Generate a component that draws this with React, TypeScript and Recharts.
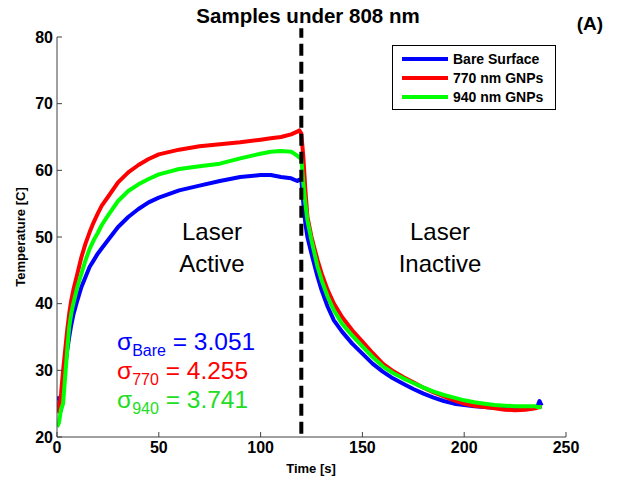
import { LineChart, Line, XAxis, YAxis, ReferenceLine, Legend } from "recharts";

// time axis in seconds, shared by the three series
const time = [
  0, 1, 2, 3, 4, 5, 6, 7, 8, 10, 12, 14, 16, 18, 20, 22, 25, 30, 35, 40, 45, 50, 60, 70, 80, 90,
  100, 105, 110, 115, 118, 119, 120, 121, 122, 123, 125, 128, 130, 133, 136, 140, 145, 150, 155,
  160, 165, 170, 175, 180, 185, 190, 195, 200, 205, 210, 215, 220, 225, 230, 235, 236, 237, 238,
];

const bareSurface = [
  25.8, 25.8, 24.0, 27.0, 30.5, 33.0, 35.0, 36.8, 38.3, 40.5, 42.5, 44.0, 45.5, 46.5, 47.5, 48.3,
  49.5, 51.5, 53.0, 54.2, 55.2, 55.9, 57.0, 57.7, 58.4, 59.0, 59.3, 59.3, 59.0, 58.8, 58.4, 58.6,
  58.6, 55.0, 52.0, 50.0, 47.5, 44.0, 42.0, 39.5, 37.5, 35.8, 34.0, 32.5, 31.0, 29.8, 28.8, 28.0,
  27.2, 26.5, 25.9, 25.4, 25.0, 24.8, 24.6, 24.5, 24.4, 24.4, 24.4, 24.4, 24.5, 24.6, 25.4, 24.7,
];

const gnp770 = [
  25.3, 23.8, 26.5, 30.0, 33.0, 36.0, 38.5, 40.5, 42.0, 44.5, 47.0, 49.0, 50.7, 52.2, 53.5, 54.7,
  56.0, 58.2, 59.7, 60.8, 61.7, 62.4, 63.1, 63.6, 63.9, 64.2, 64.6, 64.8, 65.0, 65.4, 65.8, 66.0,
  65.5, 62.0, 57.0, 53.0, 50.0, 46.5, 44.5, 42.0, 40.0, 38.0, 36.0, 34.3, 32.6, 31.0, 29.9, 29.0,
  28.2, 27.4, 26.7, 26.1, 25.5, 25.0, 24.7, 24.5, 24.3, 24.1, 24.0, 24.1, 24.3, 24.4, 24.5, 24.6,
];

const gnp940 = [
  21.5, 22.2, 24.2, 25.0, 29.0, 33.0, 36.5, 38.5, 40.0, 42.5, 44.5, 46.5, 48.2, 49.5, 50.6, 51.8,
  53.2, 55.4, 56.9, 57.9, 58.7, 59.4, 60.2, 60.6, 61.0, 61.8, 62.5, 62.8, 62.9, 62.8, 62.2, 61.9,
  61.8, 58.0, 55.0, 52.5, 49.5, 45.5, 43.5, 41.0, 39.0, 37.0, 35.2, 33.6, 32.0, 30.6, 29.6, 28.8,
  28.1, 27.4, 26.8, 26.3, 25.9, 25.5, 25.2, 25.0, 24.8, 24.7, 24.6, 24.6, 24.6, 24.5, 24.5, 24.4,
];

const xTicks = [0, 50, 100, 150, 200, 250];
const yTicks = [20, 30, 40, 50, 60, 70, 80];
const seriesKeys = ["bare", "g770", "g940"];
const seriesNames = ["Bare Surface", "770 nm GNPs", "940 nm GNPs"];
const seriesColors = ["#0000ff", "#ff0000", "#00ff00"];
const sigmaSubs = ["Bare", "770", "940"];
const sigmaValues = ["3.051", "4.255", "3.741"];
const sigmaColors = ["#0000ff", "#ff0000", "#22dd22"];
const laserOffTime = 120;

const data = time.map((t, i) => ({
  t,
  bare: bareSurface[i],
  g770: gnp770[i],
  g940: gnp940[i],
}));

const font = "'Liberation Sans', Arial, Helvetica, sans-serif";
const axisColor = "#404040";
const tickStyle = { fill: "#000", fontSize: 16, fontWeight: "bold", fontFamily: font };

function LegendBox({ payload }: any) {
  // keep the plotting order (Bare, 770, 940) rather than the alphabetical one
  const items = [...(payload || [])].sort(
    (a: any, b: any) => seriesNames.indexOf(a.value) - seriesNames.indexOf(b.value)
  );
  return (
    <div
      style={{
        border: "1px solid #000",
        background: "#fff",
        boxSizing: "border-box",
        width: 164,
        padding: "3px 0 3px 9px",
        fontFamily: font,
        fontWeight: "bold",
        fontSize: 14,
        color: "#000",
      }}
    >
      {items.map((p: any) => (
        <div key={p.value} style={{ display: "flex", alignItems: "center", height: 19 }}>
          <span
            style={{ display: "inline-block", width: 46, height: 4, background: p.color, marginRight: 5 }}
          />
          {p.value}
        </div>
      ))}
    </div>
  );
}

export default function App() {
  return (
    <div style={{ position: "absolute", left: 0, top: 0, width: 618, height: 481, background: "#fff" }}>
      <LineChart width={618} height={481} data={data} margin={{ top: 37, right: 52, bottom: 14, left: 7 }}>
        <XAxis
          dataKey="t"
          type="number"
          domain={[0, 250]}
          ticks={xTicks}
          height={30}
          axisLine={{ stroke: axisColor }}
          tickLine={{ stroke: axisColor }}
          tickSize={-5}
          tickMargin={10}
          tick={tickStyle}
          allowDataOverflow
        />
        <YAxis
          type="number"
          domain={[20, 80]}
          ticks={yTicks}
          width={50}
          axisLine={{ stroke: axisColor }}
          tickLine={{ stroke: axisColor }}
          tickSize={-5}
          tickMargin={9}
          tick={tickStyle}
          allowDataOverflow
        />
        <Legend
          layout="horizontal"
          verticalAlign="middle"
          wrapperStyle={{ position: "absolute", left: 392, top: 45, width: 164 }}
          content={<LegendBox />}
        />
        {seriesKeys.map((k, i) => (
          <Line
            key={k}
            dataKey={k}
            name={seriesNames[i]}
            stroke={seriesColors[i]}
            strokeWidth={4}
            dot={false}
            type="linear"
            strokeLinejoin="round"
            isAnimationActive={false}
          />
        ))}
        <ReferenceLine
          segment={[
            { x: laserOffTime, y: 20.5 },
            { x: laserOffTime, y: 81.3 },
          ]}
          stroke="#000"
          strokeWidth={4}
          strokeDasharray="12 6"
          ifOverflow="visible"
        />
        <g fontFamily={font}>
          <text x={308} y={23} textAnchor="middle" fontSize={20.5} fontWeight="bold" fill="#000">
            Samples under 808 nm
          </text>
          <text x={590} y={30} textAnchor="middle" fontSize={19} fontWeight="bold" fill="#000">
            (A)
          </text>
          <text x={311} y={473} textAnchor="middle" fontSize={13} fontWeight="bold" fill="#000">
            Time [s]
          </text>
          <text
            x={0}
            y={0}
            transform="translate(25,237) rotate(-90)"
            textAnchor="middle"
            fontSize={13}
            fontWeight="bold"
            fill="#000"
          >
            Temperature [C]
          </text>
          <text x={212} y={240} textAnchor="middle" fontSize={24} fill="#000">
            Laser
          </text>
          <text x={212} y={272} textAnchor="middle" fontSize={24} fill="#000">
            Active
          </text>
          <text x={440} y={240} textAnchor="middle" fontSize={24} fill="#000">
            Laser
          </text>
          <text x={440} y={272} textAnchor="middle" fontSize={24} fill="#000">
            Inactive
          </text>
          {sigmaSubs.map((s, i) => (
            <text key={s} x={117} y={350 + i * 29} fontSize={24.5} fill={sigmaColors[i]}>
              σ
              <tspan fontSize={16} dy={6}>
                {s}
              </tspan>
              <tspan dy={-6}>{" = " + sigmaValues[i]}</tspan>
            </text>
          ))}
        </g>
      </LineChart>
    </div>
  );
}
